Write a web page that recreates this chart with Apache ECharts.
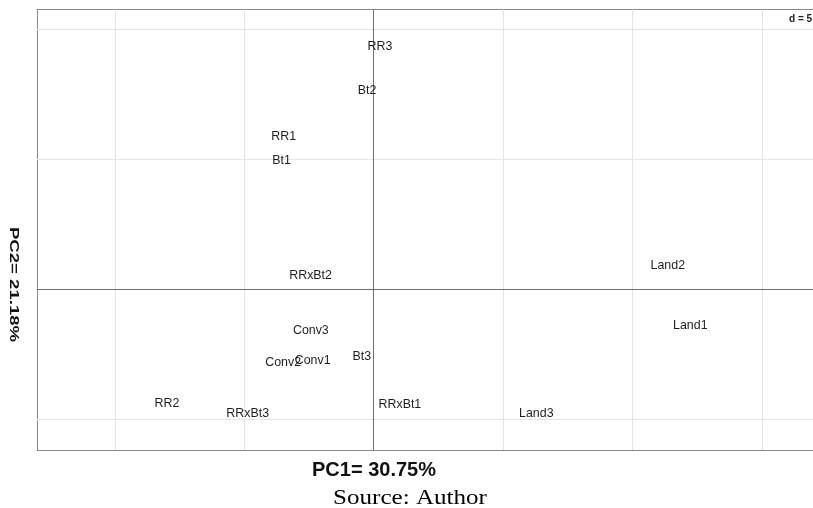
<!DOCTYPE html>
<html>
<head>
<meta charset="utf-8">
<title>PCA – PC1 vs PC2</title>
<script src="https://cdn.jsdelivr.net/npm/echarts@6/dist/echarts.min.js"></script>
<style>
  html, body { margin: 0; padding: 0; background: #fff; }
  #chart { width: 813px; height: 508px; }
</style>
</head>
<body>
<div id="chart"></div>
<script>
// Sample labels and their scores on the first two principal components
const samples = ['RR3', 'Bt2', 'RR1', 'Bt1', 'RRxBt2', 'Conv3', 'Conv2', 'Conv1', 'Bt3',
                 'RR2', 'RRxBt3', 'RRxBt1', 'Land2', 'Land1', 'Land3'];
const pc1 = [0.24, -0.26, -3.48, -3.56, -2.44, -2.43, -3.50, -2.36, -0.46,
             -7.99, -4.87, 1.01, 11.36, 12.23, 6.28];
const pc2 = [9.33, 7.63, 5.88, 4.95, 0.51, -1.60, -2.82, -2.75, -2.57,
             -4.40, -4.77, -4.45, 0.90, -1.38, -4.77];

// Grid spacing d = 5
const gridX = [-10, -5, 5, 10, 15];
const gridY = [-5, 5, 10];

// Visible window of the factorial map (the right side runs off the page)
const xRange = [-13.01, 16.97];
const yRange = [-6.18, 10.76];

const xTitle = 'PC1= 30.75%';
const yTitle = 'PC2= 21.18%';
const scaleNote = 'd = 5';
const sourceNote = 'Source: Author';

const points = samples.map((s, i) => [pc1[i], pc2[i], s]);

const gridLine = { color: '#e4e4e4', width: 1, type: 'solid' };
const zeroLine = { color: '#6e6e6e', width: 1, type: 'solid' };
const frameLine = { color: '#8a8a8a', width: 1, type: 'solid' };

const markData = []
  .concat(gridX.map(v => ({ xAxis: v, lineStyle: gridLine })))
  .concat(gridY.map(v => ({ yAxis: v, lineStyle: gridLine })))
  .concat([{ xAxis: 0, lineStyle: zeroLine }, { yAxis: 0, lineStyle: zeroLine }]);

const hiddenAxis = {
  axisTick: { show: false }, axisLabel: { show: false }, splitLine: { show: false }
};

const chart = echarts.init(document.getElementById('chart'), null, { renderer: 'canvas' });

chart.setOption({
  animation: false,
  backgroundColor: '#ffffff',
  grid: { left: 37, top: 9.5, right: 0, bottom: 58 },
  xAxis: [
    Object.assign({
      type: 'value', min: xRange[0], max: xRange[1], position: 'bottom',
      axisLine: { show: true, onZero: false, lineStyle: frameLine }
    }, hiddenAxis),
    Object.assign({
      type: 'value', min: xRange[0], max: xRange[1], position: 'top',
      axisLine: { show: true, onZero: false, lineStyle: frameLine }
    }, hiddenAxis)
  ],
  yAxis: Object.assign({
    type: 'value', min: yRange[0], max: yRange[1], position: 'left',
    axisLine: { show: true, onZero: false, lineStyle: frameLine }
  }, hiddenAxis),
  series: [{
    type: 'scatter',
    data: points,
    symbolSize: 1,
    itemStyle: { color: 'rgba(0,0,0,0)' },
    silent: true,
    label: {
      show: true,
      position: 'inside',
      offset: [0, 1],
      formatter: p => p.data[2],
      color: '#1e1e1e',
      opacity: 1,
      textBorderWidth: 0,
      fontFamily: '"Liberation Sans", Arial, sans-serif',
      fontSize: 12.4,
      align: 'center',
      verticalAlign: 'middle'
    },
    labelLayout: { hideOverlap: false },
    markLine: {
      silent: true,
      symbol: ['none', 'none'],
      label: { show: false },
      animation: false,
      data: markData
    },
    z: 5
  }],
  graphic: [
    {
      type: 'text', x: 374, y: 470,
      style: {
        text: xTitle, fill: '#111', align: 'center', verticalAlign: 'middle',
        font: 'bold 20px "Liberation Sans", Arial, sans-serif'
      }
    },
    {
      type: 'text', x: 13.5, y: 284.5, rotation: -Math.PI / 2, scaleX: 1.43,
      style: {
        text: yTitle, fill: '#111', align: 'center', verticalAlign: 'middle',
        font: 'bold 13px "Liberation Sans", Arial, sans-serif'
      }
    },
    {
      type: 'text', x: 789, y: 19,
      style: {
        text: scaleNote, fill: '#222', align: 'left', verticalAlign: 'middle',
        font: 'bold 10px "Liberation Sans", Arial, sans-serif'
      }
    },
    {
      type: 'text', x: 410, y: 498.5, scaleX: 1.14,
      style: {
        text: sourceNote, fill: '#000', align: 'center', verticalAlign: 'middle',
        font: '22px "Liberation Serif", "Times New Roman", serif'
      }
    }
  ]
});
</script>
</body>
</html>
